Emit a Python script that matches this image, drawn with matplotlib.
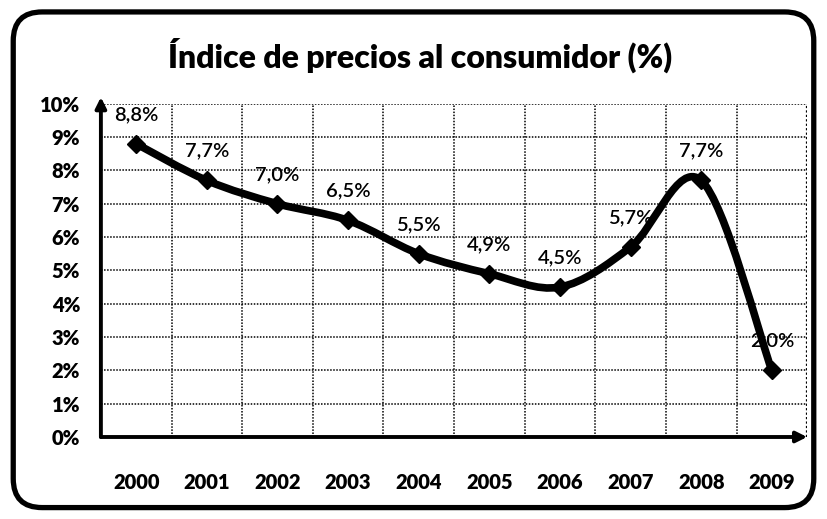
import matplotlib.pyplot as plt
import numpy as np
from matplotlib.path import Path
from matplotlib.patches import PathPatch, FancyBboxPatch
from matplotlib.transforms import IdentityTransform

years = ['2000', '2001', '2002', '2003', '2004', '2005', '2006', '2007', '2008', '2009']
ipc = [8.8, 7.7, 7.0, 6.5, 5.5, 4.9, 4.5, 5.7, 7.7, 2.0]
yticks = [0, 1, 2, 3, 4, 5, 6, 7, 8, 9, 10]

plt.rcParams['font.family'] = ['Lato', 'DejaVu Sans']

fig = plt.figure(figsize=(8.27, 5.19), dpi=100)
ax = fig.add_axes([0.122, 0.158, 0.854, 0.642])

x = np.arange(len(years))
ax.set_xlim(-0.5, len(years) - 0.5)
ax.set_ylim(0, 10)

# dotted grid, vertical lines between categories
ax.set_xticks(x)
ax.set_xticks(x[:-1] + 0.5, minor=True)
ax.set_xticklabels(years, fontsize=14.5, fontweight='heavy')
ax.set_yticks(yticks)
ax.set_yticklabels([f'{v}%' for v in yticks], fontsize=14.5, fontweight='heavy')
ax.tick_params(axis='both', which='both', length=0)
ax.tick_params(axis='x', pad=26)
ax.tick_params(axis='y', pad=15)
dots = (0, (1, 1))
ax.grid(axis='y', which='major', color='black', linestyle=dots, linewidth=1.1)
ax.grid(axis='x', which='minor', color='black', linestyle=dots, linewidth=1.1)
ax.axvline(len(years) - 0.5, color='black', linestyle=dots, linewidth=1.6)
for s in ax.spines.values():
    s.set_visible(False)

# axis arrows
ax.annotate('', xy=(1.0, 0), xytext=(0, 0), xycoords='axes fraction',
            arrowprops=dict(arrowstyle='-|>', color='black', lw=2.8, mutation_scale=16,
                            shrinkA=0, shrinkB=0), annotation_clip=False)
ax.annotate('', xy=(0, 1.02), xytext=(0, 0), xycoords='axes fraction',
            arrowprops=dict(arrowstyle='-|>', color='black', lw=2.8, mutation_scale=16,
                            shrinkA=0, shrinkB=0), annotation_clip=False)

# smoothed line (Excel-like bezier) computed in display space
fig.canvas.draw()
pts = ax.transData.transform(np.column_stack([x, ipc]))
verts = [pts[0]]
codes = [Path.MOVETO]
n = len(pts)
for i in range(n - 1):
    p0 = pts[i - 1] if i > 0 else pts[i]
    p1 = pts[i]
    p2 = pts[i + 1]
    p3 = pts[i + 2] if i + 2 < n else pts[i + 1]
    c1 = p1 + (p2 - p0) / 6
    c2 = p2 - (p3 - p1) / 6
    verts += [c1, c2, p2]
    codes += [Path.CURVE4] * 3
ax.add_patch(PathPatch(Path(verts, codes), transform=IdentityTransform(),
                       facecolor='none', edgecolor='black', lw=5.5,
                       capstyle='round', joinstyle='round', zorder=3))
ax.plot(x, ipc, linestyle='none', marker='D', markersize=9.5, color='black', zorder=4,
        clip_on=False)

for xi, v in zip(x, ipc):
    ax.annotate(f'{v:.1f}%'.replace('.', ','), (xi, v), xytext=(0, 21),
                textcoords='offset points', ha='center', va='center', fontsize=14.5,
                fontweight='semibold', color='black', zorder=5)

fig.text(0.508, 0.893, 'Índice de precios al consumidor (%)', ha='center', va='center',
         fontsize=23, fontweight='heavy')

border = FancyBboxPatch((0.016, 0.022), 0.968, 0.955, boxstyle='round,pad=0,rounding_size=0.035',
                        transform=fig.transFigure, facecolor='none', edgecolor='black',
                        lw=3.8, mutation_aspect=827 / 519)
fig.patches.append(border)

fig.savefig('out.png', dpi=100)
